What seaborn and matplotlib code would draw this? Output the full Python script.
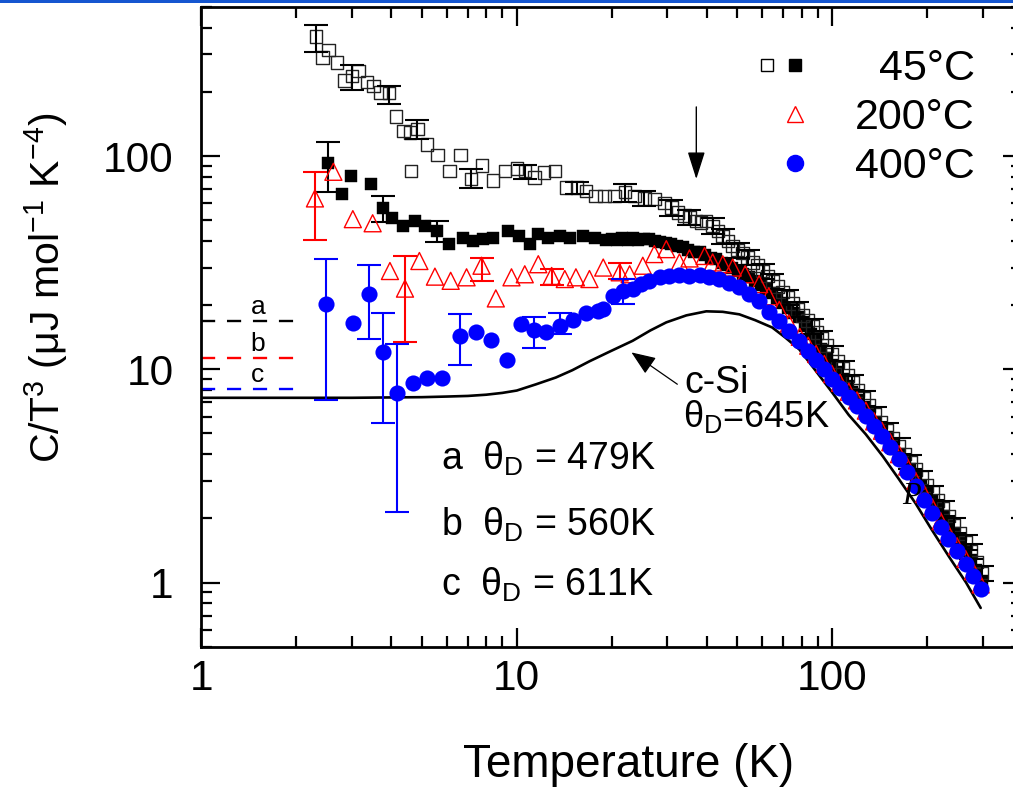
import numpy as np
import pandas as pd
import matplotlib
matplotlib.use("Agg")
import matplotlib.pyplot as plt
from matplotlib.ticker import LogLocator, NullFormatter
from matplotlib.legend_handler import HandlerTuple
from matplotlib.lines import Line2D
from matplotlib.patches import Rectangle
import seaborn as sns

# ---------------- data: C/T^3 (uJ mol^-1 K^-4) versus T (K) ----------------
# 45 C anneal, open squares
open_T = [2.31, 2.42, 2.53, 2.69, 2.84, 3.00, 3.15, 3.35, 3.51, 3.69, 3.94, 4.14, 4.37, 4.58,
          4.61, 4.84, 5.20, 5.61, 6.11, 6.64, 7.15, 7.77, 8.41, 9.18, 10.0, 10.6, 11.4, 12.2,
          13.2, 14.3, 15.5, 16.6, 17.8, 19.0, 20.4, 22.0, 23.6, 25.4, 27.3, 29.4, 30.9, 32.4,
          34.0, 35.3, 37.0, 38.4, 39.8, 41.8, 43.4, 45.0, 46.7, 48.4, 50.2, 52.0, 54.0, 56.0,
          58.0, 60.2, 62.4, 64.7, 67.1, 69.6, 72.2, 74.9, 77.6, 80.5, 83.5, 86.6, 89.5, 92.5,
          96, 100, 104, 108, 112, 116, 121, 126, 131, 137, 143, 149, 156, 163, 170, 177, 184,
          192, 200, 208, 217, 225, 234, 244, 254, 265, 276, 287, 299]
open_y = [363, 290, 315, 275, 226, 237, 251, 222, 213, 199, 198, 153, 131, 129,
          85.3, 134, 113, 101, 85.3, 101, 78, 90.2, 76.6, 85.3, 87.5, 85.3, 79.4, 83.8,
          85.3, 71.3, 71.3, 68.7, 65.1, 65.1, 65.1, 68, 65.1, 63.3, 62.8, 60.1, 57.4, 54.4,
          52.5, 51.6, 49.7, 48.8, 49.7, 47.1, 44.6, 42.2, 40.0, 37.9, 36.3, 35.1, 33.5, 31.7,
          30.6, 28.9, 27.4, 26.0, 24.4, 23.0, 21.7, 20.4, 19.1, 17.9, 16.9, 15.9, 14.9, 14.0,
          12.9, 11.8, 10.9, 10.1, 9.35, 8.7, 7.95, 7.3, 6.75, 6.15, 5.65, 5.2, 4.75, 4.37, 4.0,
          3.68, 3.39, 3.1, 2.85, 2.64, 2.42, 2.24, 2.05, 1.86, 1.70, 1.54, 1.40, 1.25, 1.11]
open_err_T = [2.31, 3.00, 3.94, 4.84, 7.15, 10.6, 15.5, 22.0, 25.4, 30.9, 35.3, 41.8, 45.0,
              50.2, 54.0, 60.2, 64.7, 72.2, 77.6, 86.6, 92.5, 100, 108, 116, 126, 137, 149,
              163, 177, 192, 208, 225, 244, 265, 276, 299]
open_err_lo = [309, 205, 176, 120, 71, 78, 66.3, 60.6, 58.3, 52.5, 47.5, 43.3, 38.8,
               33.4, 30.8, 26.6, 23.9, 20.0, 17.6, 14.6, 12.9, 10.9, 9.3, 8.0, 6.7, 5.65, 4.78,
               4.0, 3.39, 2.85, 2.43, 2.06, 1.71, 1.42, 1.29, 1.02]
open_err_hi = [412, 268, 213, 147, 87, 91, 75.6, 73.6, 68.3, 62.5, 55.7, 51.0, 45.6,
               39.3, 36.2, 31.3, 28.1, 23.5, 20.6, 17.2, 15.1, 12.8, 10.9, 9.4, 7.9, 6.65, 5.6,
               4.75, 3.97, 3.35, 2.85, 2.42, 2.01, 1.67, 1.51, 1.2]

# 45 C anneal, filled squares
filled_T = [2.52, 2.79, 2.98, 3.45, 3.76, 4.01, 4.37, 4.76, 5.11, 5.57, 6.11, 6.77, 7.28,
            7.82, 8.41, 9.38, 10.2, 11.0, 11.7, 12.6, 13.7, 14.7, 16.2, 17.7, 19.2, 20.0,
            20.8, 21.6, 22.5, 23.4, 24.3, 25.3, 26.3, 27.4, 28.5, 29.7, 30.9, 32.2, 33.6,
            35.0, 36.5, 38.0, 39.6, 41.2, 42.8, 44.6, 46.4, 48.3, 50.2, 52.3, 54.6, 56.9,
            59.3, 61.7, 64.3, 66.9, 69.6, 72.5, 75.5, 78.6, 82.0, 85.5, 89.0, 92.5, 96.5,
            100, 104, 108, 112, 116, 121, 126, 131, 137, 143, 149, 156, 163, 170, 177, 184,
            192, 200, 208, 217, 225, 234, 244, 254, 265, 276, 287, 299]
filled_y = [92.7, 66.3, 80.9, 73.9, 56.8, 51.5, 47.1, 49.7, 47.1, 44.6, 38.6, 41.1, 40.0,
            40.8, 41.1, 44.6, 42.0, 38.6, 43.0, 41.5, 42.0, 41.1, 42.2, 41.1, 40.5, 41.0,
            40.2, 41.2, 40.6, 41.3, 40.5, 40.8, 40.8, 40.0, 39.6, 39.3, 38.6, 38.0, 37.3,
            36.4, 35.5, 35.3, 34.2, 33.4, 32.8, 31.6, 30.8, 30.0, 29.0, 28.0, 27.0, 25.9,
            24.8, 23.8, 22.7, 21.6, 20.5, 19.4, 18.4, 17.5, 16.0, 14.7, 13.5, 12.4, 11.3,
            10.5, 9.7, 9.0, 8.35, 7.8, 7.2, 6.65, 6.2, 5.65, 5.2, 4.8, 4.4, 4.02, 3.7, 3.4,
            3.12, 2.85, 2.62, 2.42, 2.22, 2.05, 1.88, 1.71, 1.56, 1.41, 1.28, 1.14, 1.02]
filled_err_T = [2.52, 3.76, 5.57]
filled_err_lo = [67.7, 49.2, 39.6]
filled_err_hi = [117, 65, 49.7]

# 200 C anneal, open triangles
tri_T = [2.29, 2.62, 3.02, 3.49, 3.96, 4.42, 4.91, 5.50, 6.17, 6.93, 7.73, 8.58, 9.62, 10.6,
         11.7, 12.9, 14.2, 15.4, 17.0, 18.8, 21.2, 22.8, 25.1, 27.3, 29.8, 32.8, 35.3, 39.4,
         41.8, 45.0, 48.4, 53.0, 58.7, 63.0, 68.0, 73.0, 79.0, 84.0, 89.0, 94.5, 100, 106,
         113, 120, 128, 136, 144, 153, 163, 173, 184, 196, 208, 221, 234, 249, 265, 280, 296]
tri_y = [63.3, 84.4, 50.6, 48.4, 28.9, 23.9, 32.2, 27.2, 26.0, 27.0, 30.6, 21.5, 27.0, 27.9,
         31.1, 27.4, 26.5, 27.0, 26.5, 30.0, 28.5, 27.9, 30.6, 34.7, 36.6, 31.7, 33.1, 34.0,
         31.7, 31.1, 30.0, 27.9, 25.1, 22.0, 19.0, 16.4, 14.2, 12.9, 11.8, 10.6, 9.5, 8.65,
         7.85, 7.15, 6.4, 5.7, 5.15, 4.55, 4.0, 3.5, 3.0, 2.6, 2.25, 1.94, 1.69, 1.48, 1.29,
         1.13, 0.98]
tri_err_T = [2.29, 4.42, 7.73, 12.9, 21.2]
tri_err_lo = [40.4, 13.4, 26.0, 24.8, 26.5]
tri_err_hi = [84.4, 34.0, 33.3, 29.5, 31.5]

# 400 C anneal, filled circles
circ_T = [2.49, 3.03, 3.39, 3.76, 4.18, 4.68, 5.20, 5.78, 6.6, 7.45, 8.31, 9.32, 10.3, 11.3,
          12.4, 13.7, 15.1, 16.6, 18.1, 18.8, 20.2, 21.7, 23.3, 24.8, 26.3, 28.4, 30.5, 32.8,
          35.3, 38.0, 40.8, 43.9, 47.2, 50.8, 54.6, 58.7, 63.2, 68.0, 73.1, 78.7, 84.0, 88.8,
          94.0, 100, 106, 113, 120, 128, 136, 144, 153, 163, 173, 184, 196, 208, 221, 234,
          249, 265, 280, 296]
circ_y = [20.2, 16.4, 22.5, 12.0, 7.71, 8.59, 9.15, 9.15, 14.4, 15.0, 13.7, 11.0, 16.3, 15.3,
          15.0, 16.0, 17.0, 18.3, 18.8, 19.1, 22.1, 23.3, 23.9, 25.0, 26.0, 27.0, 27.4, 27.6,
          27.4, 27.6, 27.2, 26.5, 25.5, 24.2, 22.5, 20.9, 18.6, 16.9, 15.2, 13.5, 12.2, 11.1,
          10.0, 9.0, 8.2, 7.45, 6.75, 6.05, 5.4, 4.86, 4.3, 3.78, 3.3, 2.85, 2.45, 2.12, 1.83,
          1.6, 1.4, 1.22, 1.07, 0.93]
circ_err_T = [2.49, 3.39, 3.76, 4.18, 6.6, 11.3, 13.7, 21.7]
circ_err_lo = [7.2, 13.8, 5.62, 2.14, 10.5, 12.6, 14.6, 20.2]
circ_err_hi = [32.8, 31.0, 18.4, 13.2, 18.1, 17.5, 18.4, 26.5]

# crystalline Si reference curve
csi_T = [1, 2, 3, 4, 5, 6, 7, 8, 9, 10, 11.5, 13.3, 15, 17, 19.7, 23.3, 26.5, 29.8, 34.5,
         39.9, 45, 50.8, 57, 64.6, 71, 78.7, 88, 100, 113, 128, 145, 163, 184, 207, 235, 266, 296]
csi_y = [7.35, 7.35, 7.35, 7.38, 7.4, 7.45, 7.5, 7.6, 7.75, 7.95, 8.5, 9.15, 9.9, 10.9, 12.1,
         13.6, 15.2, 16.6, 17.9, 18.7, 18.6, 18.1, 17.0, 15.7, 14.1, 12.4, 10.0, 7.8, 6.1,
         4.95, 3.9, 3.05, 2.35, 1.77, 1.32, 1.0, 0.76]

# Debye low-T limits a, b, c
debye_labels = ["a", "b", "c"]
debye_levels = [16.9, 11.3, 8.1]
debye_colors = ["black", "red", "blue"]
debye_T_span = [1.0, 2.01]
debye_texts = ["a  θ$_\\mathrm{D}$ = 479K", "b  θ$_\\mathrm{D}$ = 560K", "c  θ$_\\mathrm{D}$ = 611K"]

legend_labels = ["  45°C", "200°C", "400°C"]

x_ticks = [1, 10, 100]
x_ticklabels = ["1", "10", "100"]
y_ticks = [1, 10, 100]
y_ticklabels = ["1", "10", "100"]

# ---------------- style ----------------
sns.set_theme(style="ticks")
plt.rcParams["font.family"] = ["Liberation Sans", "DejaVu Sans"]
plt.rcParams["mathtext.fontset"] = "custom"
plt.rcParams["mathtext.rm"] = "Liberation Sans"
plt.rcParams["mathtext.it"] = "Liberation Sans:italic"
plt.rcParams["mathtext.bf"] = "Liberation Sans:bold"
for key in ("text.color", "axes.labelcolor", "xtick.color", "ytick.color",
            "xtick.labelcolor", "ytick.labelcolor", "axes.edgecolor"):
    plt.rcParams[key] = "black"

fig = plt.figure(figsize=(10.13, 7.88), dpi=100)
ax = fig.add_axes([0.1989, 0.1793, 0.8099, 0.8118])
ax.set_xscale("log")
ax.set_yscale("log")

# reference curve
sns.lineplot(x=csi_T, y=csi_y, color="black", linewidth=1.9, estimator=None, sort=False,
             ax=ax, zorder=2, legend=False)

# dashed Debye levels
for lvl, col in zip(debye_levels, debye_colors):
    ax.plot(debye_T_span, [lvl, lvl], color=col, linewidth=1.7, linestyle=(0, (6, 5)), zorder=2)


def draw_errors(T_all, y_all, T_err, lo, hi, color, z):
    mid = pd.Series(y_all, index=T_all).loc[T_err].to_numpy()
    ax.errorbar(T_err, mid, yerr=[mid - np.array(lo), np.array(hi) - mid], fmt="none",
                ecolor=color, elinewidth=1.5, capsize=8.5, capthick=1.5, zorder=z)


# data series
sns.scatterplot(x=filled_T, y=filled_y, marker="s", s=81, color="black", edgecolor="black",
                linewidth=0.3, ax=ax, zorder=3, legend=False)
draw_errors(filled_T, filled_y, filled_err_T, filled_err_lo, filled_err_hi, "black", 3)

sns.scatterplot(x=open_T, y=open_y, marker="s", s=81, color="black", facecolor="none",
                edgecolor="#222222", linewidth=1.0, ax=ax, zorder=4, legend=False)
draw_errors(open_T, open_y, open_err_T, open_err_lo, open_err_hi, "black", 4)

sns.scatterplot(x=tri_T, y=tri_y, marker="^", s=150, color="red", facecolor="none",
                edgecolor="red", linewidth=1.0, ax=ax, zorder=5, legend=False)
draw_errors(tri_T, tri_y, tri_err_T, tri_err_lo, tri_err_hi, "red", 5)

sns.scatterplot(x=circ_T, y=circ_y, marker="o", s=135, color="blue", edgecolor="blue",
                linewidth=0, ax=ax, zorder=6, legend=False)
draw_errors(circ_T, circ_y, circ_err_T, circ_err_lo, circ_err_hi, "blue", 6)

# axes
ax.set_xlim(1, 400)
ax.set_ylim(0.5, 500)
ax.set_xticks(x_ticks, labels=x_ticklabels)
ax.set_yticks(y_ticks, labels=y_ticklabels)
for axis in (ax.xaxis, ax.yaxis):
    axis.set_minor_locator(LogLocator(base=10, subs=np.arange(2, 10), numticks=20))
    axis.set_minor_formatter(NullFormatter())
ax.tick_params(which="both", direction="in", top=True, right=True, width=1.6, color="black")
ax.tick_params(which="major", length=14)
ax.tick_params(which="minor", length=8)
ax.tick_params(axis="x", which="major", labelsize=30.5, pad=9, labelcolor="black")
ax.tick_params(axis="y", which="major", labelsize=30.5, pad=20, labelcolor="black")
for sp in ax.spines.values():
    sp.set_linewidth(2.0)
    sp.set_color("black")

ax.set_xlabel("Temperature (K)", fontsize=33, va="baseline", color="black")
ax.xaxis.set_label_coords(0.521, -0.203)
ax.set_ylabel("C/T$^3$ (μJ mol$^{-1}$ K$^{-4}$)", fontsize=29.5, va="center", color="black")
ax.yaxis.set_label_coords(-0.19, 0.5615)

# legend
blank = Line2D([], [], linestyle="none")
h45 = (Line2D([], [], linestyle="none", marker="s", markersize=9, markerfacecolor="white",
              markeredgecolor="black", markeredgewidth=1.0),
       Line2D([], [], linestyle="none", marker="s", markersize=9, color="black"))
h200 = (blank, Line2D([], [], linestyle="none", marker="^", markersize=12.2,
                      markerfacecolor="none", markeredgecolor="red", markeredgewidth=1.0))
h400 = (blank, Line2D([], [], linestyle="none", marker="o", markersize=11.6, color="blue"))
leg = ax.legend([h45, h200, h400], legend_labels,
                handler_map={tuple: HandlerTuple(ndivide=None, pad=0)},
                loc="upper right", bbox_to_anchor=(0.9427, 0.934), frameon=False, fontsize=31,
                borderpad=0, borderaxespad=0, handlelength=1.3, handletextpad=1.07,
                labelspacing=0.21)
for t in leg.get_texts():
    t.set_color("black")

# annotations
for lab, lvl in zip(debye_labels, debye_levels):
    ax.text(1.51, lvl * 1.16, lab, fontsize=19, ha="center", va="center")

for txt, yb in zip(debye_texts, [3.38, 1.65, 0.863]):
    ax.text(5.75, yb, txt, fontsize=27, ha="left", va="baseline")

ax.text(34.0, 7.75, "c-Si", fontsize=27, ha="left", va="baseline")
ax.text(33.6, 5.37, "θ$_\\mathrm{D}$=645K", fontsize=26, ha="left", va="baseline")
ax.annotate("", xy=(23.1, 12.0), xytext=(32.3, 8.51),
            arrowprops=dict(arrowstyle="-|>,head_length=0.75,head_width=0.3",
                            color="black", lw=0.9, shrinkA=0, shrinkB=0, mutation_scale=20))
ax.annotate("", xy=(37.1, 78), xytext=(37.1, 170),
            arrowprops=dict(arrowstyle="-|>,head_length=0.85,head_width=0.27",
                            color="black", lw=1.0, shrinkA=0, shrinkB=0, mutation_scale=20))
ax.text(179, 2.53, "P", fontsize=22, family="Liberation Serif", style="italic",
        ha="center", va="center", zorder=7)

# slide frame strip along the top edge
fig.add_artist(Rectangle((0, 1 - 3 / 788), 1, 3 / 788, transform=fig.transFigure,
                         facecolor="#1556d0", edgecolor="none", zorder=10))

fig.savefig("out.png", dpi=100)
